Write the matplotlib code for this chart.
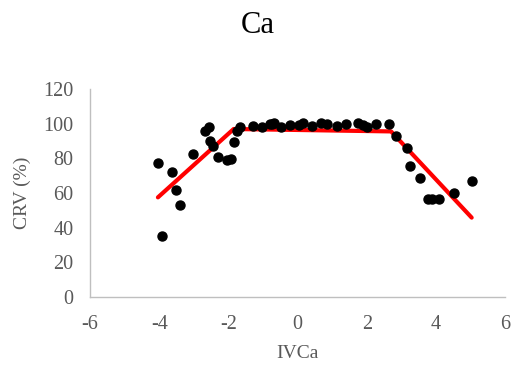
import matplotlib.pyplot as plt

plt.rcParams['font.family'] = ['Liberation Serif', 'DejaVu Serif']
plt.rcParams['axes.unicode_minus'] = False

# scatter data
ivca = [-4.04, -3.92, -3.63, -3.51, -3.39, -3.03, -2.67, -2.56, -2.54, -2.45,
        -2.31, -2.04, -1.94, -1.84, -1.74, -1.68, -1.29, -1.03, -0.81, -0.74,
        -0.69, -0.47, -0.21, 0.04, 0.15, 0.40, 0.68, 0.86, 1.14, 1.41,
        1.74, 1.89, 1.99, 2.27, 2.64, 2.85, 3.17, 3.24, 3.55, 3.77,
        3.89, 4.10, 4.53, 5.03]
crv = [77.5, 35.2, 72.0, 61.7, 52.9, 82.7, 96.0, 98.3, 90.2, 87.1,
       81.0, 79.1, 79.5, 89.4, 96.0, 97.9, 98.8, 98.3, 99.8, 99.8,
       100.3, 97.9, 99.2, 99.2, 100.3, 98.8, 100.3, 100.0, 98.8, 100.0,
       100.3, 99.2, 97.9, 99.8, 100.0, 92.9, 86.2, 75.6, 68.8, 56.5,
       56.4, 56.5, 60.2, 67.1]

# piecewise fit (red line)
fit_x = [-4.04, -1.85, 2.7, 5.03]
fit_y = [57.5, 97.0, 95.6, 45.8]

fig = plt.figure(figsize=(5.15, 3.67), dpi=100)
ax = fig.add_axes([0.175, 0.191, 0.806, 0.566])

ax.plot(fit_x, fit_y, color="red", lw=3, solid_capstyle="round", zorder=2)
ax.plot(ivca, crv, "o", color="black", ms=6.5, zorder=3)

ax.set_xlim(-6, 6)
ax.set_ylim(0, 120)
ax.set_xticks(range(-6, 7, 2))
ax.set_yticks(range(0, 121, 20))
ax.tick_params(length=0, labelsize=14.5, colors="#595959")
ax.tick_params(axis="x", pad=13)
ax.tick_params(axis="y", pad=12)

for s in ["top", "right"]:
    ax.spines[s].set_visible(False)
for s in ["left", "bottom"]:
    ax.spines[s].set_color("#bfbfbf")
    ax.spines[s].set_linewidth(1)

ax.set_xlabel("IVCa", fontsize=14, color="#595959", va="center")
ax.set_ylabel("CRV (%)", fontsize=14, color="#595959", va="center")
ax.xaxis.set_label_coords(0.5, -0.272)
ax.yaxis.set_label_coords(-0.164, 0.5)
fig.text(0.5, 0.93, "Ca", ha="center", va="center", fontsize=22)

fig.savefig("out.png", dpi=100)
